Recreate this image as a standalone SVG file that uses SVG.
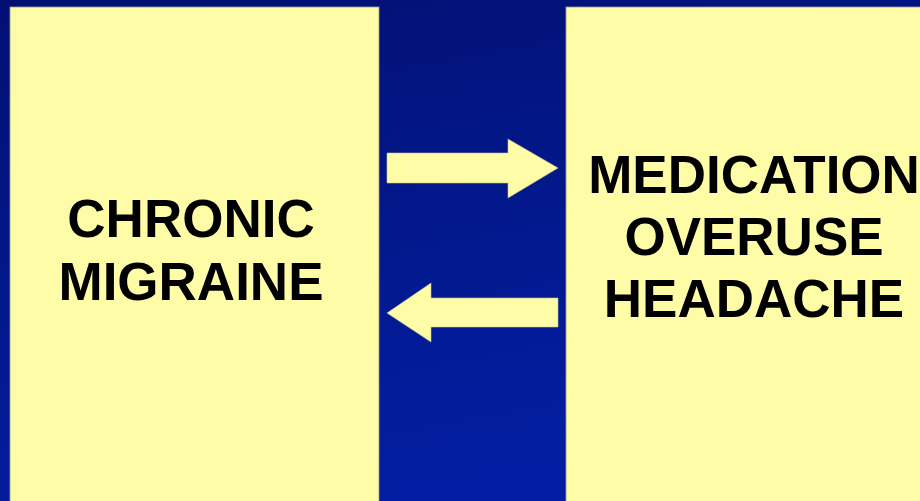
<svg xmlns="http://www.w3.org/2000/svg" width="920" height="501" viewBox="0 0 920 501">
<style>
.box{fill:#FFFCA8;stroke:#9a9a8a;stroke-width:0.8}
.lbl{font-family:"Liberation Sans",Arial,sans-serif;font-weight:bold;font-size:53px;fill:#000;text-anchor:middle}
.arr{fill:#FFFCA8;stroke:#c8c090;stroke-width:0.6}
</style>
<defs>
<linearGradient id="bg" x1="0" y1="0" x2="0.35" y2="1">
<stop offset="0" stop-color="#021072"/>
<stop offset="1" stop-color="#031ea2"/>
</linearGradient>
</defs>
<rect width="920" height="501" fill="url(#bg)"/>
<g id="chronic-migraine">
<rect class="box" x="10" y="7" width="369" height="500"/>
<text class="lbl" x="191" y="237">CHRONIC</text>
<text class="lbl" x="191" y="300">MIGRAINE</text>
</g>
<g id="medication-overuse-headache">
<rect class="box" x="566" y="7" width="360" height="500"/>
<text class="lbl" x="754" y="193">MEDICATION</text>
<text class="lbl" x="754" y="255">OVERUSE</text>
<text class="lbl" x="754" y="317">HEADACHE</text>
</g>
<g id="connectors">
<polygon class="arr" points="387,153 508,153 508,139 558,168 508,198 508,183 387,183"/>
<polygon class="arr" points="558,298 431,298 431,283 387,313 431,342 431,327 558,327"/>
</g>
</svg>
